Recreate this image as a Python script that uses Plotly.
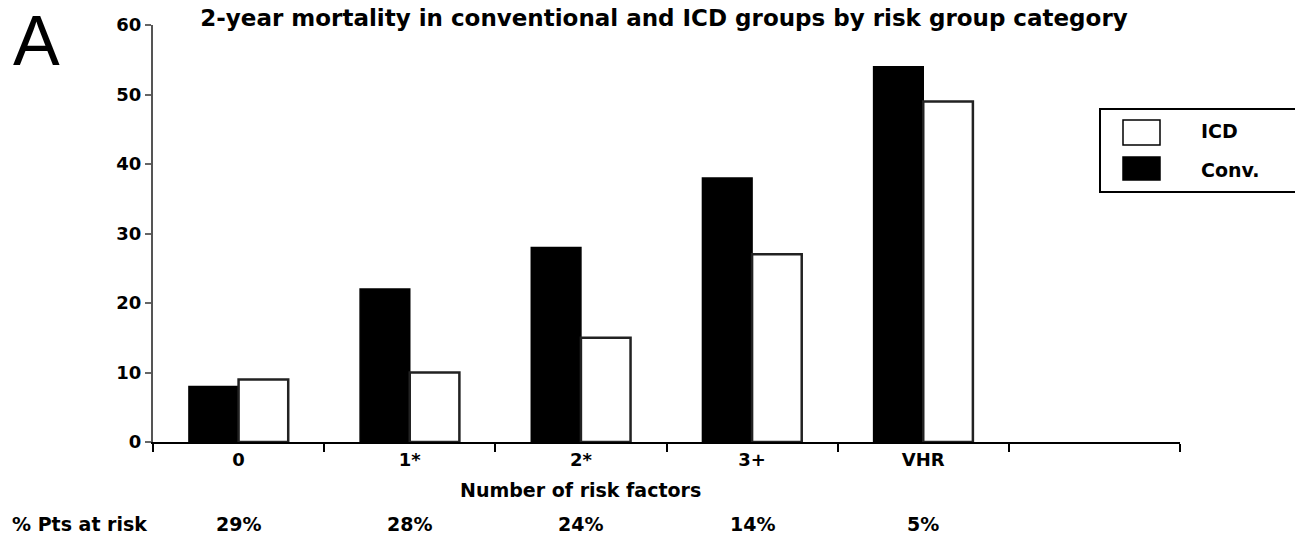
import plotly.graph_objects as go

categories = ["0", "1*", "2*", "3+", "VHR"]
conv_values = [8, 22, 28, 38, 54]
icd_values = [9, 10, 15, 27, 49]
pct_at_risk = ["29%", "28%", "24%", "14%", "5%"]
y_ticks = [0, 10, 20, 30, 40, 50, 60]

FONT = "DejaVu Sans, Liberation Sans, Arial, sans-serif"
FONT_A = "Liberation Sans, Arial, sans-serif"
W, H = 1295, 539
L, R, T, B = 153, 115, 25, 97
PW, PH = W - L - R, H - T - B


def px_x(p):
    return (p - L) / PW


def px_y(p):
    return (H - B - p) / PH


fig = go.Figure()
fig.add_trace(go.Bar(x=categories, y=conv_values, name="Conv.",
                     marker=dict(color="black", line=dict(color="black", width=1.5))))
fig.add_trace(go.Bar(x=categories, y=icd_values, name="ICD",
                     marker=dict(color="white", line=dict(color="#222", width=2.5))))

cat_order = categories + [" "]

fig.update_layout(
    width=W, height=H,
    margin=dict(l=L, r=R, t=T, b=B),
    paper_bgcolor="white", plot_bgcolor="white",
    barmode="group", bargap=0.42, bargroupgap=0,
    showlegend=False,
    font=dict(family=FONT, color="black"),
    title=dict(text="<b>2-year mortality in conventional and ICD groups by risk group category</b>",
               x=664 / W, xanchor="center", xref="container",
               y=1 - 18 / H, yref="container", yanchor="middle",
               font=dict(size=23, family=FONT, color="black")),
    xaxis=dict(type="category", categoryorder="array", categoryarray=cat_order,
               range=[-0.5, 5.5], tickson="boundaries", ticks="outside", ticklen=8,
               tickwidth=1.5, tickcolor="black", showline=True, linecolor="black", linewidth=2,
               showgrid=False, zeroline=False,
               tickfont=dict(size=18, family=FONT, weight="bold", color="black")),
    yaxis=dict(range=[0, 60], tickvals=y_ticks, ticks="outside", ticklen=6, tickwidth=1.5,
               tickcolor="#666", showline=True, linecolor="#555", linewidth=2,
               showgrid=False, zeroline=False,
               tickfont=dict(size=18, family=FONT, weight="bold", color="black")),
)

ann = [
    dict(text="A", xref="paper", yref="paper", x=px_x(36), y=px_y(41), showarrow=False,
         xanchor="center", yanchor="middle", font=dict(size=70, family=FONT_A, color="black")),
    dict(text="<b>Number of risk factors</b>", xref="x", yref="paper", x=2, y=px_y(490),
         showarrow=False, xanchor="center", yanchor="middle",
         font=dict(size=19, family=FONT, color="black")),
    dict(text="<b>% Pts at risk</b>", xref="paper", yref="paper", x=px_x(10), y=px_y(524),
         showarrow=False, xanchor="left", yanchor="middle",
         font=dict(size=19, family=FONT, color="black")),
    dict(text="<b>ICD</b>", xref="paper", yref="paper", x=px_x(1199), y=px_y(131),
         showarrow=False, xanchor="left", yanchor="middle",
         font=dict(size=19, family=FONT, color="black")),
    dict(text="<b>Conv.</b>", xref="paper", yref="paper", x=px_x(1199), y=px_y(170),
         showarrow=False, xanchor="left", yanchor="middle",
         font=dict(size=19, family=FONT, color="black")),
]
for c, p in zip(categories, pct_at_risk):
    ann.append(dict(text=f"<b>{p}</b>", xref="x", yref="paper", x=c, y=px_y(524),
                    showarrow=False, xanchor="center", yanchor="middle",
                    font=dict(size=19, family=FONT, color="black")))
fig.update_layout(annotations=ann)

shapes = [
    dict(type="rect", xref="paper", yref="paper", x0=px_x(1100), x1=px_x(1310),
         y0=px_y(192), y1=px_y(109), line=dict(color="black", width=2), fillcolor="rgba(0,0,0,0)"),
    dict(type="rect", xref="paper", yref="paper", x0=px_x(1123), x1=px_x(1160),
         y0=px_y(145), y1=px_y(120), line=dict(color="black", width=1.5), fillcolor="white"),
    dict(type="rect", xref="paper", yref="paper", x0=px_x(1123), x1=px_x(1160),
         y0=px_y(180), y1=px_y(157), line=dict(color="black", width=1.5), fillcolor="black"),
]
fig.update_layout(shapes=shapes)

fig.write_html("out.html", config={"displayModeBar": False},
               post_script="document.body.style.margin='0';document.body.style.padding='0';")
